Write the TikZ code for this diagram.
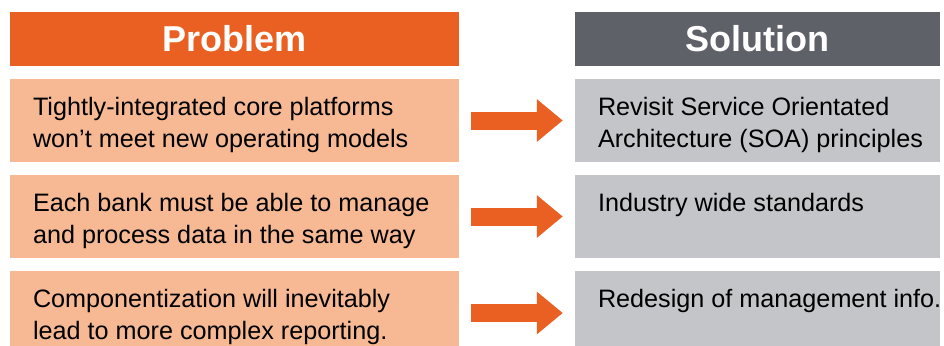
\documentclass[tikz,border=0pt]{standalone}
\usepackage{fontspec}
\setmainfont{Liberation Sans}
\usetikzlibrary{positioning, arrows.meta}
\definecolor{hdorange}{HTML}{E96022}
\definecolor{boxorange}{HTML}{F6B994}
\definecolor{hdgrey}{HTML}{5F6168}
\definecolor{boxgrey}{HTML}{C4C5C9}
\tikzstyle{probhead}=[fill=hdorange, text=white, font=\fontsize{36}{40}\selectfont\bfseries, minimum width=449pt, minimum height=54pt, inner sep=0pt]
\tikzstyle{solhead}=[probhead, fill=hdgrey, minimum width=365pt]
\tikzstyle{probbox}=[fill=boxorange, minimum width=449pt, minimum height=83pt, inner sep=0pt]
\tikzstyle{solbox}=[probbox, fill=boxgrey, minimum width=365pt]
\tikzstyle{txt}=[anchor=base west, align=left, inner sep=0pt, font=\fontsize{25.2}{32}\selectfont]
\tikzstyle{flow}=[line width=18pt, hdorange, shorten <=12pt, shorten >=12pt, -{Triangle[length=26pt,width=41pt]}]
\begin{document}
\begin{tikzpicture}[x=1pt, y=-1pt]
\useasboundingbox (0,0) rectangle (944,345);
\node[probhead] (ph) at (234.5,39) {Problem};
\node[solhead] (sh) at (757.5,39) {Solution};
\node[probbox] (p1) at (234.5,120.5){}; \node[solbox] (s1) at (757.5,120.5){};
\node[probbox] (p2) at (234.5,216.5){}; \node[solbox] (s2) at (757.5,216.5){};
\node[probbox, minimum height=84pt] (p3) at (234.5,313){}; \node[solbox, minimum height=84pt] (s3) at (757.5,313){};
% problem texts (base = last line)
\node[txt] (pt1) at ([shift={(23pt,-69pt)}]p1.north west) {Tightly-integrated core platforms\\won’t meet new operating models};
\node[txt] (pt2) at ([shift={(23pt,-69pt)}]p2.north west) {Each bank must be able to manage\\and process data in the same way};
\node[txt] (pt3) at ([shift={(23pt,-69pt)}]p3.north west) {Componentization will inevitably\\lead to more complex reporting.};
% solution texts
\node[txt] (st1) at ([shift={(23pt,-69pt)}]s1.north west) {Revisit Service Orientated\\Architecture (SOA) principles};
\node[txt] (st2) at ([shift={(23pt,-37pt)}]s2.north west) {Industry wide standards};
\node[txt] (st3) at ([shift={(23pt,-37pt)}]s3.north west) {Redesign of management info.};
\draw[flow] (p1.east) -- (s1.west);
\draw[flow] (p2.east) -- (s2.west);
\draw[flow] (p3.east) -- (s3.west);
\end{tikzpicture}
\end{document}
